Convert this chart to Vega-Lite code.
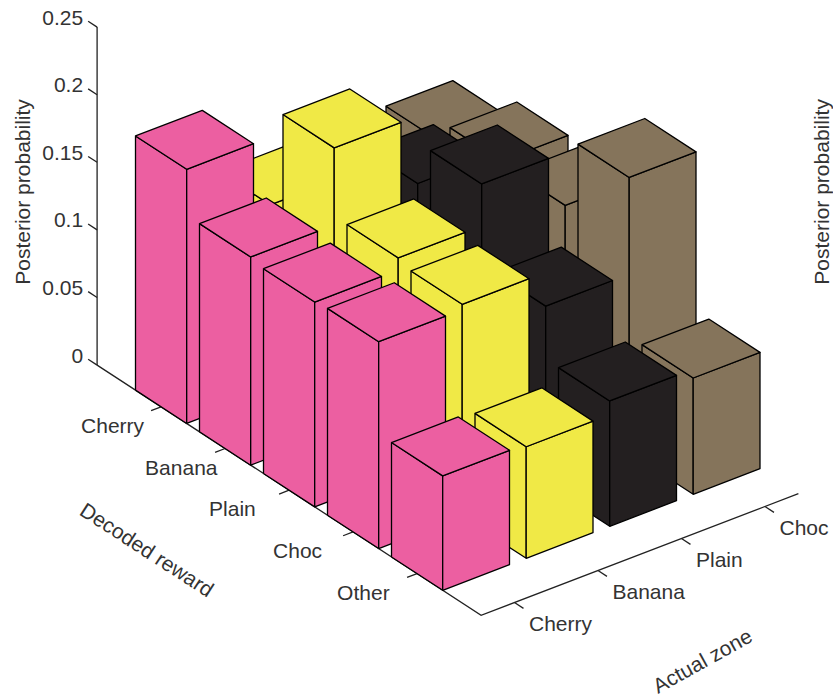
{
"$schema":"https://vega.github.io/schema/vega-lite/v6.json",
"width":833,"height":698,"padding":0,
"autosize":{"type":"none"},
"background":"white",
"view":{"stroke":null},
"config":{"text":{"font":"Liberation Sans","fontSize":21,"color":"#333333"}},
"datasets":{
"bars":[
{"zone":"Choc","reward":"Cherry","value":0.139},
{"zone":"Choc","reward":"Banana","value":0.154},
{"zone":"Choc","reward":"Plain","value":0.152},
{"zone":"Choc","reward":"Choc","value":0.2035},
{"zone":"Choc","reward":"Other","value":0.086},
{"zone":"Plain","reward":"Cherry","value":0.13},
{"zone":"Plain","reward":"Banana","value":0.161},
{"zone":"Plain","reward":"Plain","value":0.1915},
{"zone":"Plain","reward":"Choc","value":0.132},
{"zone":"Plain","reward":"Other","value":0.0927},
{"zone":"Banana","reward":"Cherry","value":0.138},
{"zone":"Banana","reward":"Banana","value":0.211},
{"zone":"Banana","reward":"Plain","value":0.1605},
{"zone":"Banana","reward":"Choc","value":0.157},
{"zone":"Banana","reward":"Other","value":0.0825},
{"zone":"Cherry","reward":"Cherry","value":0.188},
{"zone":"Cherry","reward":"Banana","value":0.154},
{"zone":"Cherry","reward":"Plain","value":0.1515},
{"zone":"Cherry","reward":"Choc","value":0.153},
{"zone":"Cherry","reward":"Other","value":0.0846}
],
"axes":[
{"id":"z","k":0,"u":-0.4,"v":-1,"z":0},{"id":"z","k":1,"u":-0.4,"v":-1,"z":0.25},
{"id":"floor","k":0,"u":-0.4,"v":-1,"z":0},{"id":"floor","k":1,"u":-0.4,"v":5,"z":0},{"id":"floor","k":2,"u":3.4,"v":5,"z":0},
{"id":"tz0","k":0,"u":-0.4,"v":-1,"z":0},{"id":"tz0","k":1,"u":-0.4,"v":-1.14,"z":0},
{"id":"tz1","k":0,"u":-0.4,"v":-1,"z":0.05},{"id":"tz1","k":1,"u":-0.4,"v":-1.14,"z":0.05},
{"id":"tz2","k":0,"u":-0.4,"v":-1,"z":0.1},{"id":"tz2","k":1,"u":-0.4,"v":-1.14,"z":0.1},
{"id":"tz3","k":0,"u":-0.4,"v":-1,"z":0.15},{"id":"tz3","k":1,"u":-0.4,"v":-1.14,"z":0.15},
{"id":"tz4","k":0,"u":-0.4,"v":-1,"z":0.2},{"id":"tz4","k":1,"u":-0.4,"v":-1.14,"z":0.2},
{"id":"tz5","k":0,"u":-0.4,"v":-1,"z":0.25},{"id":"tz5","k":1,"u":-0.4,"v":-1.14,"z":0.25},
{"id":"tv0","k":0,"u":-0.4,"v":0,"z":0},{"id":"tv0","k":1,"u":-0.52,"v":0,"z":0},
{"id":"tv1","k":0,"u":-0.4,"v":1,"z":0},{"id":"tv1","k":1,"u":-0.52,"v":1,"z":0},
{"id":"tv2","k":0,"u":-0.4,"v":2,"z":0},{"id":"tv2","k":1,"u":-0.52,"v":2,"z":0},
{"id":"tv3","k":0,"u":-0.4,"v":3,"z":0},{"id":"tv3","k":1,"u":-0.52,"v":3,"z":0},
{"id":"tv4","k":0,"u":-0.4,"v":4,"z":0},{"id":"tv4","k":1,"u":-0.52,"v":4,"z":0},
{"id":"tu0","k":0,"u":0,"v":5,"z":0},{"id":"tu0","k":1,"u":0,"v":5.14,"z":0},
{"id":"tu1","k":0,"u":1,"v":5,"z":0},{"id":"tu1","k":1,"u":1,"v":5.14,"z":0},
{"id":"tu2","k":0,"u":2,"v":5,"z":0},{"id":"tu2","k":1,"u":2,"v":5.14,"z":0},
{"id":"tu3","k":0,"u":3,"v":5,"z":0},{"id":"tu3","k":1,"u":3,"v":5.14,"z":0}
],
"zlabels":[
{"label":"0","z":0},{"label":"0.05","z":0.05},{"label":"0.1","z":0.1},{"label":"0.15","z":0.15},{"label":"0.2","z":0.2},{"label":"0.25","z":0.25}
],
"rewardLabels":[
{"label":"Cherry","v":0},{"label":"Banana","v":1},{"label":"Plain","v":2},{"label":"Choc","v":3},{"label":"Other","v":4}
],
"zoneLabels":[
{"label":"Cherry","u":0},{"label":"Banana","u":1},{"label":"Plain","u":2},{"label":"Choc","u":3}
],
"ztitles":[
{"label":"Posterior probability","u":-0.958,"v":-1.414,"z":0.1285},
{"label":"Posterior probability","u":5.07,"v":3.21,"z":0.1285}
]
},
"encoding":{
"x":{"field":"px","type":"quantitative","scale":{"domain":[0,833],"nice":false,"zero":false},"axis":null},
"y":{"field":"py","type":"quantitative","scale":{"domain":[698,0],"nice":false,"zero":false},"axis":null}
},
"layer":[
{
"data":{"name":"axes"},
"transform":[
{"calculate":"194.5+83.5*datum.u+64*datum.v","as":"px"},
{"calculate":"394-32*datum.u+41.7*datum.v-1352*datum.z","as":"py"}
],
"mark":{"type":"line","stroke":"#222222","strokeWidth":1.3,"clip":false},
"encoding":{"detail":{"field":"id"},"order":{"field":"k","type":"quantitative"}}
},
{
"data":{"name":"bars"},
"transform":[
{"calculate":"indexof(['Cherry','Banana','Plain','Choc'],datum.zone)","as":"u"},
{"calculate":"indexof(['Cherry','Banana','Plain','Choc','Other'],datum.reward)","as":"v"},
{"calculate":"[0,1,2,3,4,5,6,7,8,9,10,11,12,13,14]","as":"k"},
{"flatten":["k"]},
{"calculate":"floor(datum.k/5)","as":"face"},
{"calculate":"datum.zone+'-'+datum.reward+'-'+datum.face","as":"poly"},
{"calculate":"datum.u+[-0.4,-0.4,-0.4,-0.4,-0.4,-0.4,0.4,0.4,-0.4,-0.4,-0.4,-0.4,0.4,0.4,-0.4][datum.k]","as":"cu"},
{"calculate":"datum.v+[-0.4,0.4,0.4,-0.4,-0.4,0.4,0.4,0.4,0.4,0.4,-0.4,0.4,0.4,-0.4,-0.4][datum.k]","as":"cv"},
{"calculate":"datum.value*[0,0,1,1,0,0,0,1,1,0,1,1,1,1,1][datum.k]","as":"cz"},
{"calculate":"194.5+83.5*datum.cu+64*datum.cv","as":"px"},
{"calculate":"394-32*datum.cu+41.7*datum.cv-1352*datum.cz","as":"py"}
],
"mark":{"type":"line","stroke":"black","strokeWidth":1.3,"strokeJoin":"round","clip":false},
"encoding":{
"detail":{"field":"poly"},
"order":{"field":"k","type":"quantitative"},
"fill":{"field":"zone","type":"nominal","legend":null,"scale":{"domain":["Cherry","Banana","Plain","Choc"],"range":["#EC5FA1","#F0E946","#231F20","#85745B"]}}
}
},
{
"data":{"name":"zlabels"},
"transform":[{"calculate":"194.5+83.5*(-0.4)+64*(-1)","as":"px"},{"calculate":"394+12.8-41.7-1352*datum.z","as":"py"}],
"mark":{"type":"text","align":"right","baseline":"middle","dx":-14,"dy":-8.5},
"encoding":{"text":{"field":"label"}}
},
{
"data":{"name":"rewardLabels"},
"transform":[{"calculate":"194.5+83.5*(-0.4)+64*datum.v","as":"px"},{"calculate":"394+12.8+41.7*datum.v","as":"py"}],
"mark":{"type":"text","align":"left","baseline":"middle","dx":-80,"dy":20},
"encoding":{"text":{"field":"label"}}
},
{
"data":{"name":"zoneLabels"},
"transform":[{"calculate":"194.5+83.5*datum.u+64*5","as":"px"},{"calculate":"394-32*datum.u+41.7*5","as":"py"}],
"mark":{"type":"text","align":"left","baseline":"middle","dx":14.5,"dy":22},
"encoding":{"text":{"field":"label"}}
},
{
"data":{"name":"ztitles"},
"transform":[{"calculate":"194.5+83.5*datum.u+64*datum.v","as":"px"},{"calculate":"394-32*datum.u+41.7*datum.v-1352*datum.z","as":"py"}],
"mark":{"type":"text","align":"center","baseline":"middle","angle":270},
"encoding":{"text":{"field":"label"}}
},
{
"data":{"values":[{"label":"Decoded reward","u":-2.18,"v":2.09}]},
"transform":[{"calculate":"194.5+83.5*datum.u+64*datum.v","as":"px"},{"calculate":"394-32*datum.u+41.7*datum.v","as":"py"}],
"mark":{"type":"text","align":"center","baseline":"middle","angle":33},
"encoding":{"text":{"field":"label"}}
},
{
"data":{"values":[{"label":"Actual zone","u":0.733,"v":6.99}]},
"transform":[{"calculate":"194.5+83.5*datum.u+64*datum.v","as":"px"},{"calculate":"394-32*datum.u+41.7*datum.v","as":"py"}],
"mark":{"type":"text","align":"center","baseline":"middle","angle":331},
"encoding":{"text":{"field":"label"}}
}
]
}
